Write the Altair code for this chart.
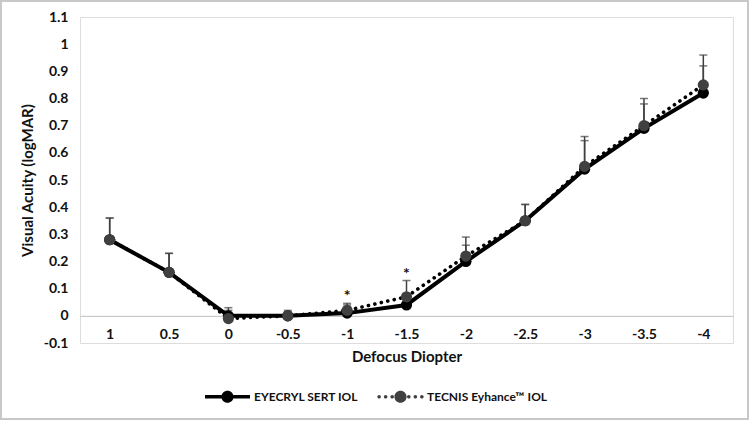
import altair as alt
import pandas as pd

defocus = [1, 0.5, 0, -0.5, -1, -1.5, -2, -2.5, -3, -3.5, -4]
eyecryl = [0.28, 0.16, 0.0, 0.0, 0.01, 0.04, 0.20, 0.35, 0.54, 0.69, 0.82]
eyecryl_sd = [0.08, 0.07, 0.02, 0.015, 0.03, 0.01, 0.06, 0.06, 0.105, 0.09, 0.10]
tecnis = [0.28, 0.16, -0.01, 0.0, 0.02, 0.07, 0.22, 0.35, 0.55, 0.70, 0.85]
tecnis_sd = [0.08, 0.07, 0.04, 0.02, 0.026, 0.06, 0.07, 0.06, 0.11, 0.10, 0.11]
series_names = ["EYECRYL SERT IOL", "TECNIS Eyhance™ IOL"]
star_at = [-1, -1.5]
y_ticks = [round(i * 0.1, 1) for i in range(-1, 12)]

rows = []
for name, vals, sds in [(series_names[0], eyecryl, eyecryl_sd), (series_names[1], tecnis, tecnis_sd)]:
    for d, v, s in zip(defocus, vals, sds):
        rows.append({"defocus": d, "va": v, "top": round(v + s, 3), "series": name})
df = pd.DataFrame(rows)

star_df = df[df["defocus"].isin(star_at)].groupby("defocus", as_index=False)["top"].max()
star_df["label"] = "*"

FONT = "Lato"
INK = "#111111"
W, H = 653, 326

xscale = alt.Scale(domain=[-4.25, 1.25], reverse=True, nice=False, zero=False)
yscale = alt.Scale(domain=[-0.1, 1.1], nice=False, zero=False)

x_enc = alt.X("defocus:Q", scale=xscale,
              axis=alt.Axis(values=defocus, tickCount=30, labelExpr="datum.value", title="Defocus Diopter",
                            grid=False, ticks=False, domainColor="#bfbfbf", domainWidth=1,
                            offset=-(0.1 / 1.2 * H), labelPadding=12, titlePadding=8,
                            labelOverlap=False,
                            labelFont=FONT, labelFontSize=14, labelFontWeight="bold", labelColor=INK,
                            titleFont=FONT, titleFontSize=15, titleFontWeight="bold", titleColor=INK))
y_enc = alt.Y("va:Q", scale=yscale,
              axis=alt.Axis(values=y_ticks, tickCount=30, labelExpr="datum.value", title="Visual Acuity (logMAR)",
                            grid=False, ticks=False, domain=False, labelPadding=12, titlePadding=8,
                            labelOverlap=False,
                            labelFont=FONT, labelFontSize=14, labelFontWeight="bold", labelColor=INK,
                            titleFont=FONT, titleFontSize=15, titleFontWeight="bold", titleColor=INK))

base = alt.Chart(df)


def circ(cx, r):
    return (f"M{cx + r:.3f},0A{r},{r},0,1,1,{cx - r:.3f},0"
            f"A{r},{r},0,1,1,{cx + r:.3f},0Z")


marker = circ(0, 0.27)
glyph_solid = "M-1,-0.08H1V0.08H-1Z" + marker
glyph_dotted = "".join(circ(c, 0.08) for c in [-0.95, -0.66, -0.37, 0.37, 0.66, 0.95]) + marker

fill_scale = alt.Scale(domain=series_names, range=["#000000", "#404040"])
legend_props = dict(title=None, orient="none", direction="horizontal",
                    legendX=125, legendY=357, symbolSize=2025, symbolStrokeWidth=0,
                    symbolOpacity=1, columnPadding=18, labelOffset=4,
                    labelFont=FONT, labelFontSize=12, labelFontWeight="bold", labelColor=INK)

line_solid = base.transform_filter(alt.datum.series == series_names[0]).mark_line(
    strokeWidth=4, strokeCap="round", color="black").encode(x=x_enc, y=y_enc)
line_dotted = base.transform_filter(alt.datum.series == series_names[1]).mark_line(
    strokeWidth=3.6, strokeCap="round", strokeDash=[0.1, 6.5], color="black").encode(x=x_enc, y=y_enc)

err = base.mark_rule(color="#404040", strokeWidth=1.5).encode(
    x="defocus:Q", y="va:Q", y2="top:Q")
caps = base.mark_tick(color="#404040", thickness=1.5, size=8, orient="horizontal").encode(
    x="defocus:Q", y=alt.Y("top:Q"))

# layer that carries the legend (glyph = line style + marker)
legend_carrier = base.mark_point(filled=True, size=120, opacity=1, strokeWidth=0).encode(
    x="defocus:Q", y="va:Q",
    fill=alt.Fill("series:N", scale=fill_scale, legend=alt.Legend(**legend_props)),
    shape=alt.Shape("series:N", scale=alt.Scale(domain=series_names, range=[glyph_solid, glyph_dotted]),
                    legend=alt.Legend(**legend_props)))

# round markers drawn on top
dots = base.mark_circle(size=125, opacity=1).encode(
    x="defocus:Q", y="va:Q", fill=alt.Fill("series:N", scale=fill_scale))

stars = alt.Chart(star_df).mark_text(font=FONT, fontSize=16, fontWeight="bold", fill=INK,
                                     baseline="middle", dy=-7).encode(
    x="defocus:Q", y=alt.Y("top:Q"), text="label:N")

border = alt.Chart(pd.DataFrame({"a": [0]})).mark_rect(
    fill=None, stroke="#c8c8c8", strokeWidth=2).encode(
    x=alt.value(-79), x2=alt.value(668), y=alt.value(-16), y2=alt.value(402))

chart = alt.layer(border, err, caps, line_solid, line_dotted, legend_carrier, dots, stars).properties(
    width=W, height=H,
    autosize=alt.AutoSizeParams(type="none"),
    padding={"left": 80, "top": 17, "right": 17, "bottom": 78},
).configure_view(stroke=None).configure_axis(labelOverlap=False).configure(background="white")

chart.save("out.html", embed_options={"renderer": "svg", "actions": False})
